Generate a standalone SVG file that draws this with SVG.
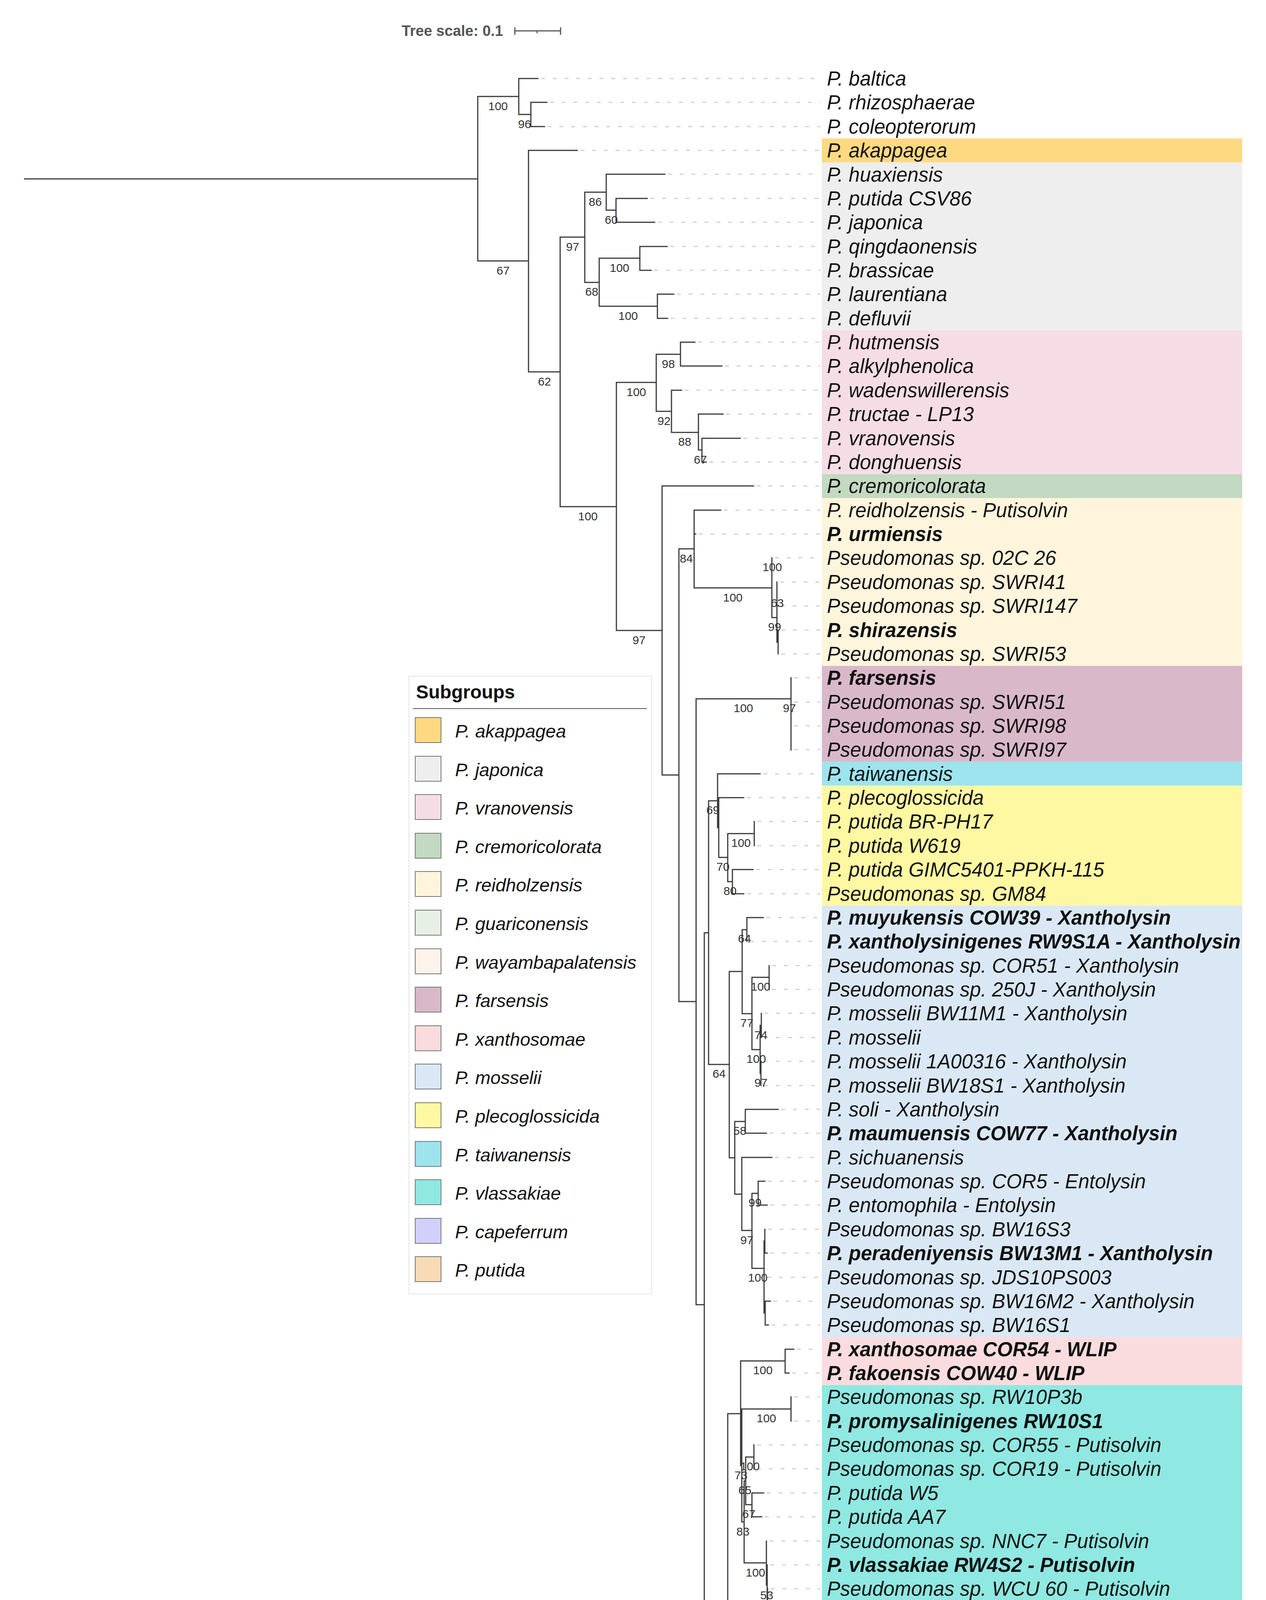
<svg xmlns="http://www.w3.org/2000/svg" width="3241" height="6015" viewBox="0 0 3241 6015">
<style>
.br{fill:none;stroke:#3a3a3a;stroke-width:3;stroke-linecap:square}
.dl{fill:none;stroke:#d0d0d0;stroke-width:3;stroke-dasharray:10 20}
.lb{font-family:"Liberation Sans",Arial,sans-serif;font-size:51px;font-style:italic;fill:#111}
.b{font-weight:bold}
.bs{font-family:"Liberation Sans",Arial,sans-serif;font-size:30px;fill:#333;text-anchor:middle}
.lg{font-family:"Liberation Sans",Arial,sans-serif;font-size:47px;font-style:italic;fill:#111}
.sw{stroke:#777;stroke-width:2}
</style>
<rect width="3241" height="6015" fill="#fff"/>
<g id="scale">
<text x="1288" y="92" font-family="'Liberation Sans',Arial,sans-serif" font-size="38" font-weight="bold" fill="#555" text-anchor="end">Tree scale: 0.1</text>
<path d="M1318 79H1435M1318 70V89M1435 70V89M1375 79V85" fill="none" stroke="#555" stroke-width="3"/>
</g>
<g id="bands">
<rect x="2104" y="354.4" width="1076" height="61.4" fill="#FFD982"/>
<rect x="2104" y="415.8" width="1076" height="429.6" fill="#EEEEEE"/>
<rect x="2104" y="845.4" width="1076" height="368.2" fill="#F6DDE5"/>
<rect x="2104" y="1213.6" width="1076" height="61.4" fill="#C3D9C1"/>
<rect x="2104" y="1275" width="1076" height="429.6" fill="#FFF5DC"/>
<rect x="2104" y="1704.6" width="1076" height="245.5" fill="#D9B9C9"/>
<rect x="2104" y="1950.1" width="1076" height="61.3" fill="#9DE4EE"/>
<rect x="2104" y="2011.4" width="1076" height="306.9" fill="#FFF8A3"/>
<rect x="2104" y="2318.3" width="1076" height="1104.7" fill="#DAE8F5"/>
<rect x="2104" y="3423" width="1076" height="122.7" fill="#FADCDE"/>
<rect x="2104" y="3545.7" width="1076" height="675" fill="#8FE8E1"/>
<rect x="2104" y="4220.7" width="1076" height="613.8" fill="#D0D0FB" stroke="#B9BDF3" stroke-width="2"/>
<rect x="2104" y="4834.5" width="1076" height="245.5" fill="#E6F0E4"/>
<rect x="2104" y="5080" width="1076" height="61.3" fill="#FEF3EA"/>
<rect x="2104" y="5141.3" width="1076" height="491" fill="#FDEBDB"/>
<rect x="2104" y="5632.3" width="1076" height="306.9" fill="#F8DAB6"/>
</g>
<g id="connectors">
<path class="dl" d="M1385 201H2100M1408 262H2100M1402 324H2100M1486 385H2100M1710 446H2100M1665 508H2100M1684 569H2100M1716 631H2100M1675 692H2100M1733 753H2100M1717 815H2100M1787 876H2100M1856 937H2100M1753 999H2100M1859 1060H2100M1903 1122H2100M1816 1183H2100M1937 1244H2100M1853 1306H2100M1789 1367H2100M1984 1428H2100M1997 1490H2100M1999 1551H2100M2000 1613H2100M2000 1674H2100M2033 1735H2100M2033 1797H2100M2033 1858H2100M2033 1919H2100M1954 1981H2100M1912 2042H2100M1939 2103H2100M1939 2165H2100M1936 2226H2100M1912 2288H2100M1962 2349H2100M1920 2410H2100M1977 2472H2100M1977 2533H2100M1957 2594H2100M1957 2656H2100M1956 2717H2100M1956 2779H2100M2000 2840H2100M1970 2901H2100M1984 2963H2100M1966 3024H2100M1972 3085H2100M1966 3147H2100M1972 3208H2100M1964 3270H2100M1980 3331H2100M1975 3392H2100M2040 3454H2100M2028 3515H2100M2033 3576H2100M2033 3638H2100M1938 3699H2100M1938 3760H2100M1963 3822H2100M1958 3883H2100M1970 3945H2100M1972 4006H2100M1973 4067H2100M1974 4129H2100M1974 4190H2100M1994 4251H2100M1994 4313H2100M1994 4374H2100M2027 4436H2100M2027 4497H2100M2027 4558H2100M2027 4620H2100M2027 4681H2100M2027 4742H2100M2027 4804H2100M2090 4865H2100M2096 4927H2100M2096 4988H2100M2096 5049H2100M2080 5172H2100M2082 5233H2100M2082 5295H2100M2071 5356H2100M2078 5417H2100M2078 5479H2100M2078 5540H2100M2078 5602H2100M2021 5663H2100M2042 5724H2100M2037 5786H2100M2020 5847H2100M2020 5908H2100"/>
<path class="br" d="M63 458H1223M1223 247V668
M1223 247H1328M1328 201V293M1328 201H1377M1328 293H1359M1359 262V324M1359 262H1400M1359 324H1394
M1223 668H1353M1353 385V952M1353 385H1478M1353 952H1434
M1434 607V1297M1434 607H1497M1434 1297H1578
M1497 492V723M1497 492H1552M1497 723H1534
M1552 446V538M1552 446H1702M1552 538H1577
M1577 508V569M1577 508H1657M1577 569H1676
M1534 661V784M1534 661H1638M1534 784H1683
M1638 631V692M1638 631H1708M1638 692H1667
M1683 753V815M1683 753H1725M1683 815H1709
M1578 979V1614M1578 979H1680M1578 1614H1695
M1680 907V1053M1680 907H1742M1680 1053H1719
M1742 876V937M1742 876H1779M1742 937H1848
M1719 999V1107M1719 999H1745M1719 1107H1788
M1788 1060V1152M1788 1060H1851M1788 1152H1797
M1797 1122V1183M1797 1122H1895M1797 1183H1808
M1695 1244V1984M1695 1244H1929M1695 1984H1738
M1738 1405V2564M1738 1405H1777M1738 2564H1782
M1777 1306V1505M1777 1306H1845M1777 1367H1781M1777 1505H1976
M1976 1428V1581M1976 1581H1989
M1989 1490V1644M1989 1644H1992M1992 1613V1674M1989 1551H1991
M1782 1789V3340M1782 1789H2025M1782 3340H1803
M2025 1735V1920
M1803 2388V4292M1803 2388H1814M1803 4292H1863
M1814 2050V2725M1814 2050H1837M1814 2725H1867
M1837 1981V2119M1837 1981H1946M1837 2119H1840
M1840 2042V2195M1840 2042H1904M1840 2195H1863
M1863 2134V2257M1863 2134H1931M1863 2257H1875
M1931 2103V2165
M1875 2226V2288M1875 2226H1928M1875 2288H1904
M1867 2487V2964M1867 2487H1900M1867 2964H1881
M1900 2380V2595M1900 2380H1912M1900 2595H1925
M1912 2349V2410M1912 2349H1954
M1925 2502V2687M1925 2502H1969M1925 2687H1946
M1969 2472V2533
M1946 2625V2748M1946 2625H1949M1946 2748H1948
M1949 2594V2656
M1948 2717V2779
M1881 2871V3057M1881 2871H1908M1881 3057H1899
M1908 2840V2901M1908 2840H1992M1908 2901H1962
M1899 2963V3150M1899 2963H1976M1899 3150H1925
M1925 3055V3247M1925 3055H1941M1925 3247H1956
M1941 3024V3085M1941 3024H1958M1941 3085H1964
M1956 3177V3361M1956 3177H1958M1956 3361H1959
M1958 3147V3208M1958 3208H1964
M1959 3331V3392M1959 3331H1972M1959 3392H1967
M1863 3619V4965M1863 3619H1896M1863 4965H1878
M1896 3484V3752M1896 3484H2010M1896 3752H1899
M2010 3454V3515M2010 3454H2032M2010 3515H2020
M1899 3607V3896M1899 3607H2025M1899 3896H1905
M2025 3576V3638
M1905 3791V4001M1905 3791H1909M1905 4001H1962
M1909 3730V3852M1909 3730H1930M1909 3852H1925
M1930 3699V3760
M1925 3822V3883M1925 3822H1955M1925 3883H1950
M1962 3945V4058M1962 4058H1964M1964 4006V4110M1964 4110H1965M1965 4067V4160M1965 4160H1966M1966 4129V4190
M1878 4420V5950M1878 4420H1949M1878 5066H1932M1878 5694H1923
M1949 4298V4543M1949 4298H1986M1949 4543H2019
M1986 4251V4374
M2019 4436V4804
M1932 4919V5214M1932 4919H2049M1932 5214H1966
M2049 4865V4972M2049 4865H2082M2049 4972H2088
M2088 4927V5049
M1966 5111V5317M1966 5111H2104M1966 5317H2054
M2054 5219V5414M2054 5219H2072M2054 5414H2063
M2072 5172V5264M2072 5264H2074M2074 5233V5295
M2063 5356V5471M2063 5471H2070M2070 5418V5602
M1923 5663V5725M1923 5663H2013M1923 5725H2034
M1903 5832V5950M1903 5832H2009
M2009 5786V5878M2009 5786H2029M2009 5878H2012M2012 5847V5908"/>
</g>
<g id="support">
<text class="bs" x="1275" y="282">100</text>
<text class="bs" x="1343" y="328">96</text>
<text class="bs" x="1288" y="703">67</text>
<text class="bs" x="1394" y="987">62</text>
<text class="bs" x="1466" y="642">97</text>
<text class="bs" x="1524" y="527">86</text>
<text class="bs" x="1565" y="573">60</text>
<text class="bs" x="1515" y="757">68</text>
<text class="bs" x="1586" y="696">100</text>
<text class="bs" x="1608" y="819">100</text>
<text class="bs" x="1505" y="1332">100</text>
<text class="bs" x="1629" y="1014">100</text>
<text class="bs" x="1711" y="942">98</text>
<text class="bs" x="1700" y="1088">92</text>
<text class="bs" x="1753" y="1141">88</text>
<text class="bs" x="1793" y="1187">67</text>
<text class="bs" x="1636" y="1649">97</text>
<text class="bs" x="1757" y="1440">84</text>
<text class="bs" x="1876" y="1540">100</text>
<text class="bs" x="1977" y="1462">100</text>
<text class="bs" x="1990" y="1554">63</text>
<text class="bs" x="1983" y="1615">99</text>
<text class="bs" x="1903" y="1823">100</text>
<text class="bs" x="2021" y="1823">97</text>
<text class="bs" x="1825" y="2084">69</text>
<text class="bs" x="1851" y="2229">70</text>
<text class="bs" x="1897" y="2168">100</text>
<text class="bs" x="1869" y="2291">80</text>
<text class="bs" x="1906" y="2413">64</text>
<text class="bs" x="1841" y="2759">64</text>
<text class="bs" x="1912" y="2629">77</text>
<text class="bs" x="1947" y="2536">100</text>
<text class="bs" x="1948" y="2660">74</text>
<text class="bs" x="1936" y="2721">100</text>
<text class="bs" x="1948" y="2782">97</text>
<text class="bs" x="1894" y="2905">58</text>
<text class="bs" x="1912" y="3185">97</text>
<text class="bs" x="1933" y="3089">99</text>
<text class="bs" x="1940" y="3281">100</text>
<text class="bs" x="1953" y="3518">100</text>
<text class="bs" x="1962" y="3641">100</text>
<text class="bs" x="1897" y="3787">73</text>
<text class="bs" x="1920" y="3764">100</text>
<text class="bs" x="1907" y="3825">65</text>
<text class="bs" x="1917" y="3886">67</text>
<text class="bs" x="1902" y="3931">83</text>
<text class="bs" x="1934" y="4036">100</text>
<text class="bs" x="1963" y="4094">53</text>
<text class="bs" x="1965" y="4148">84</text>
<text class="bs" x="1914" y="4454">86</text>
<text class="bs" x="1968" y="4332">100</text>
<text class="bs" x="1984" y="4577">100</text>
<text class="bs" x="2020" y="4501">86</text>
<text class="bs" x="2018" y="4649">62</text>
<text class="bs" x="2018" y="4762">55</text>
<text class="bs" x="1991" y="4953">100</text>
<text class="bs" x="2068" y="5007">100</text>
<text class="bs" x="1949" y="5248">62</text>
<text class="bs" x="2010" y="5351">100</text>
<text class="bs" x="2063" y="5254">100</text>
<text class="bs" x="2072" y="5300">77</text>
<text class="bs" x="2058" y="5448">99</text>
<text class="bs" x="2070" y="5507">65</text>
<text class="bs" x="2070" y="5560">86</text>
<text class="bs" x="1901" y="5728">52</text>
<text class="bs" x="1956" y="5866">100</text>
<text class="bs" x="2012" y="5912">100</text>
</g>
<g id="leaves">
<g id="leaf00"><text class="lb" x="2117" y="219">P. baltica</text></g>
<g id="leaf01"><text class="lb" x="2117" y="280">P. rhizosphaerae</text></g>
<g id="leaf02"><text class="lb" x="2117" y="342">P. coleopterorum</text></g>
<g id="leaf03"><text class="lb" x="2117" y="403">P. akappagea</text></g>
<g id="leaf04"><text class="lb" x="2117" y="465">P. huaxiensis</text></g>
<g id="leaf05"><text class="lb" x="2117" y="526">P. putida CSV86</text></g>
<g id="leaf06"><text class="lb" x="2117" y="587">P. japonica</text></g>
<g id="leaf07"><text class="lb" x="2117" y="649">P. qingdaonensis</text></g>
<g id="leaf08"><text class="lb" x="2117" y="710">P. brassicae</text></g>
<g id="leaf09"><text class="lb" x="2117" y="771">P. laurentiana</text></g>
<g id="leaf10"><text class="lb" x="2117" y="833">P. defluvii</text></g>
<g id="leaf11"><text class="lb" x="2117" y="894">P. hutmensis</text></g>
<g id="leaf12"><text class="lb" x="2117" y="955">P. alkylphenolica</text></g>
<g id="leaf13"><text class="lb" x="2117" y="1017">P. wadenswillerensis</text></g>
<g id="leaf14"><text class="lb" x="2117" y="1078">P. tructae - LP13</text></g>
<g id="leaf15"><text class="lb" x="2117" y="1140">P. vranovensis</text></g>
<g id="leaf16"><text class="lb" x="2117" y="1201">P. donghuensis</text></g>
<g id="leaf17"><text class="lb" x="2117" y="1262">P. cremoricolorata</text></g>
<g id="leaf18"><text class="lb" x="2117" y="1324">P. reidholzensis - Putisolvin</text></g>
<g id="leaf19"><text class="lb b" x="2117" y="1385">P. urmiensis</text></g>
<g id="leaf20"><text class="lb" x="2117" y="1446">Pseudomonas sp. 02C 26</text></g>
<g id="leaf21"><text class="lb" x="2117" y="1508">Pseudomonas sp. SWRI41</text></g>
<g id="leaf22"><text class="lb" x="2117" y="1569">Pseudomonas sp. SWRI147</text></g>
<g id="leaf23"><text class="lb b" x="2117" y="1631">P. shirazensis</text></g>
<g id="leaf24"><text class="lb" x="2117" y="1692">Pseudomonas sp. SWRI53</text></g>
<g id="leaf25"><text class="lb b" x="2117" y="1753">P. farsensis</text></g>
<g id="leaf26"><text class="lb" x="2117" y="1815">Pseudomonas sp. SWRI51</text></g>
<g id="leaf27"><text class="lb" x="2117" y="1876">Pseudomonas sp. SWRI98</text></g>
<g id="leaf28"><text class="lb" x="2117" y="1937">Pseudomonas sp. SWRI97</text></g>
<g id="leaf29"><text class="lb" x="2117" y="1999">P. taiwanensis</text></g>
<g id="leaf30"><text class="lb" x="2117" y="2060">P. plecoglossicida</text></g>
<g id="leaf31"><text class="lb" x="2117" y="2121">P. putida BR-PH17</text></g>
<g id="leaf32"><text class="lb" x="2117" y="2183">P. putida W619</text></g>
<g id="leaf33"><text class="lb" x="2117" y="2244">P. putida GIMC5401-PPKH-115</text></g>
<g id="leaf34"><text class="lb" x="2117" y="2306">Pseudomonas sp. GM84</text></g>
<g id="leaf35"><text class="lb b" x="2117" y="2367">P. muyukensis COW39 - Xantholysin</text></g>
<g id="leaf36"><text class="lb b" x="2117" y="2428">P. xantholysinigenes RW9S1A - Xantholysin</text></g>
<g id="leaf37"><text class="lb" x="2117" y="2490">Pseudomonas sp. COR51 - Xantholysin</text></g>
<g id="leaf38"><text class="lb" x="2117" y="2551">Pseudomonas sp. 250J - Xantholysin</text></g>
<g id="leaf39"><text class="lb" x="2117" y="2612">P. mosselii BW11M1 - Xantholysin</text></g>
<g id="leaf40"><text class="lb" x="2117" y="2674">P. mosselii</text></g>
<g id="leaf41"><text class="lb" x="2117" y="2735">P. mosselii 1A00316 - Xantholysin</text></g>
<g id="leaf42"><text class="lb" x="2117" y="2797">P. mosselii BW18S1 - Xantholysin</text></g>
<g id="leaf43"><text class="lb" x="2117" y="2858">P. soli - Xantholysin</text></g>
<g id="leaf44"><text class="lb b" x="2117" y="2919">P. maumuensis COW77 - Xantholysin</text></g>
<g id="leaf45"><text class="lb" x="2117" y="2981">P. sichuanensis</text></g>
<g id="leaf46"><text class="lb" x="2117" y="3042">Pseudomonas sp. COR5 - Entolysin</text></g>
<g id="leaf47"><text class="lb" x="2117" y="3103">P. entomophila - Entolysin</text></g>
<g id="leaf48"><text class="lb" x="2117" y="3165">Pseudomonas sp. BW16S3</text></g>
<g id="leaf49"><text class="lb b" x="2117" y="3226">P. peradeniyensis BW13M1 - Xantholysin</text></g>
<g id="leaf50"><text class="lb" x="2117" y="3288">Pseudomonas sp. JDS10PS003</text></g>
<g id="leaf51"><text class="lb" x="2117" y="3349">Pseudomonas sp. BW16M2 - Xantholysin</text></g>
<g id="leaf52"><text class="lb" x="2117" y="3410">Pseudomonas sp. BW16S1</text></g>
<g id="leaf53"><text class="lb b" x="2117" y="3472">P. xanthosomae COR54 - WLIP</text></g>
<g id="leaf54"><text class="lb b" x="2117" y="3533">P. fakoensis COW40 - WLIP</text></g>
<g id="leaf55"><text class="lb" x="2117" y="3594">Pseudomonas sp. RW10P3b</text></g>
<g id="leaf56"><text class="lb b" x="2117" y="3656">P. promysalinigenes RW10S1</text></g>
<g id="leaf57"><text class="lb" x="2117" y="3717">Pseudomonas sp. COR55 - Putisolvin</text></g>
<g id="leaf58"><text class="lb" x="2117" y="3778">Pseudomonas sp. COR19 - Putisolvin</text></g>
<g id="leaf59"><text class="lb" x="2117" y="3840">P. putida W5</text></g>
<g id="leaf60"><text class="lb" x="2117" y="3901">P. putida AA7</text></g>
<g id="leaf61"><text class="lb" x="2117" y="3963">Pseudomonas sp. NNC7 - Putisolvin</text></g>
<g id="leaf62"><text class="lb b" x="2117" y="4024">P. vlassakiae RW4S2 - Putisolvin</text></g>
<g id="leaf63"><text class="lb" x="2117" y="4085">Pseudomonas sp. WCU 60 - Putisolvin</text></g>
<g id="leaf64"><text class="lb" x="2117" y="4147">Pseudomonas sp. WCU 64 - Putisolvin</text></g>
<g id="leaf65"><text class="lb" x="2117" y="4208">Pseudomonas sp. RW4P2</text></g>
<g id="leaf66"><text class="lb" x="2117" y="4269">P. capeferrum WCS358 - Putisolvin</text></g>
<g id="leaf67"><text class="lb" x="2117" y="4331">P. capeferrum SWRI68 - Putisolvin</text></g>
<g id="leaf68"><text class="lb" x="2117" y="4392">P. capeferrum SWRI59 - Putisolvin</text></g>
<g id="leaf69"><text class="lb" x="2117" y="4454">Pseudomonas sp. PAGU2196</text></g>
<g id="leaf70"><text class="lb" x="2117" y="4515">P. putida E41 - Putisolvin</text></g>
<g id="leaf71"><text class="lb" x="2117" y="4576">Pseudomonas sp. Irchel s3c7</text></g>
<g id="leaf72"><text class="lb" x="2117" y="4638">P. putida E46 - Putisolvin</text></g>
<g id="leaf73"><text class="lb b" x="2117" y="4699">P. kermanshahensis SWRI100 - Putisolvin</text></g>
<g id="leaf74"><text class="lb" x="2117" y="4760">Pseudomonas sp. SWRI50 - Putisolvin</text></g>
<g id="leaf75"><text class="lb" x="2117" y="4822">Pseudomonas sp. SWRI67 - Putisolvin</text></g>
<g id="leaf76"><text class="lb" x="2117" y="4883">P. putida IEC33019</text></g>
<g id="leaf77"><text class="lb" x="2117" y="4945">P. guariconensis</text></g>
<g id="leaf78"><text class="lb" x="2117" y="5006">P. putida WP8-W18-CRE-01</text></g>
<g id="leaf79"><text class="lb" x="2117" y="5067">P. putida WP4-W18-CRE-03</text></g>
<g id="leaf80"><text class="lb" x="2117" y="5129">P. putida RHF2.1-15</text></g>
<g id="leaf81"><text class="lb" x="2117" y="5190">P. putida PC2 - WLIP</text></g>
<g id="leaf82"><text class="lb" x="2117" y="5251">P. putida NX-1 - WLIP</text></g>
<g id="leaf83"><text class="lb" x="2117" y="5313">Pseudomonas sp. NSE1 - WLIP</text></g>
<g id="leaf84"><text class="lb" x="2117" y="5374">P. putida RHF2.4-3</text></g>
<g id="leaf85"><text class="lb" x="2117" y="5435">P. putida LHF4.1-6</text></g>
<g id="leaf86"><text class="lb b" x="2117" y="5497">P. wayambapalatensis RW3S1 - WLIP</text></g>
<g id="leaf87"><text class="lb" x="2117" y="5558">Pseudomonas sp. RW10S2 - WLIP</text></g>
<g id="leaf88"><text class="lb" x="2117" y="5620">Pseudomonas sp. RW3S2 - WLIP</text></g>
<g id="leaf89"><text class="lb" x="2117" y="5681">P. fulva - Putisolvin</text></g>
<g id="leaf90"><text class="lb" x="2117" y="5742">P. parafulva - Putisolvin</text></g>
<g id="leaf91"><text class="lb" x="2117" y="5804">P. putida SY153</text></g>
<g id="leaf92"><text class="lb" x="2117" y="5865">Pseudomonas sp. TJI-51</text></g>
<g id="leaf93"><text class="lb" x="2117" y="5926">P. juntendi</text></g>
</g>
<g id="legend">
<rect x="1047" y="1731" width="621" height="1581" fill="#fff" stroke="#ececec" stroke-width="3"/>
<text x="1065" y="1788" font-family="'Liberation Sans',Arial,sans-serif" font-size="48" font-weight="bold" fill="#111">Subgroups</text>
<path d="M1057 1814H1656" stroke="#555" stroke-width="2"/>
<rect class="sw" x="1063" y="1837" width="66" height="64" fill="#FFD982"/><text class="lg" x="1165" y="1888">P. akappagea</text>
<rect class="sw" x="1063" y="1936" width="66" height="64" fill="#EEEEEE"/><text class="lg" x="1165" y="1987">P. japonica</text>
<rect class="sw" x="1063" y="2034" width="66" height="64" fill="#F6DDE5"/><text class="lg" x="1165" y="2085">P. vranovensis</text>
<rect class="sw" x="1063" y="2133" width="66" height="64" fill="#C3D9C1"/><text class="lg" x="1165" y="2184">P. cremoricolorata</text>
<rect class="sw" x="1063" y="2231" width="66" height="64" fill="#FFF5DC"/><text class="lg" x="1165" y="2282">P. reidholzensis</text>
<rect class="sw" x="1063" y="2330" width="66" height="64" fill="#E6F0E4"/><text class="lg" x="1165" y="2381">P. guariconensis</text>
<rect class="sw" x="1063" y="2429" width="66" height="64" fill="#FEF3EA"/><text class="lg" x="1165" y="2480">P. wayambapalatensis</text>
<rect class="sw" x="1063" y="2527" width="66" height="64" fill="#D9B9C9"/><text class="lg" x="1165" y="2578">P. farsensis</text>
<rect class="sw" x="1063" y="2626" width="66" height="64" fill="#FADCDE"/><text class="lg" x="1165" y="2677">P. xanthosomae</text>
<rect class="sw" x="1063" y="2724" width="66" height="64" fill="#DAE8F5"/><text class="lg" x="1165" y="2775">P. mosselii</text>
<rect class="sw" x="1063" y="2823" width="66" height="64" fill="#FFF8A3"/><text class="lg" x="1165" y="2874">P. plecoglossicida</text>
<rect class="sw" x="1063" y="2922" width="66" height="64" fill="#9DE4EE"/><text class="lg" x="1165" y="2973">P. taiwanensis</text>
<rect class="sw" x="1063" y="3020" width="66" height="64" fill="#8FE8E1"/><text class="lg" x="1165" y="3071">P. vlassakiae</text>
<rect class="sw" x="1063" y="3119" width="66" height="64" fill="#D0D0FB"/><text class="lg" x="1165" y="3170">P. capeferrum</text>
<rect class="sw" x="1063" y="3217" width="66" height="64" fill="#F8DAB6"/><text class="lg" x="1165" y="3268">P. putida</text>
</g>
</svg>
